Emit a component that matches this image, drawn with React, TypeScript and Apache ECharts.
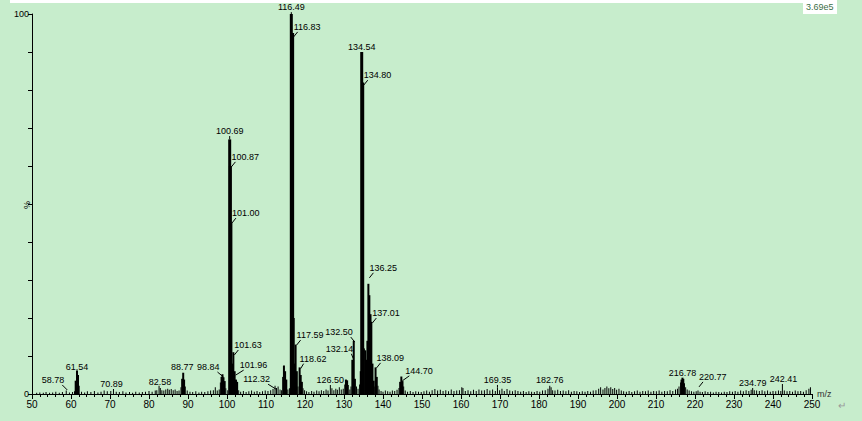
import React, { useEffect, useRef } from "react";
import * as echarts from "echarts";

// m/z values of every stick in the spectrum
const mzValues: number[] = [
  51.2, 52.0, 52.9, 53.6, 54.5, 55.3, 56.1, 57.0, 57.8, 58.78, 59.6, 60.4, 60.9, 61.2, 61.54, 61.8, 62.1, 62.7, 63.5, 64.2,
  65.1, 66.0, 66.9, 67.7, 68.5, 69.3, 70.2, 70.89, 71.6, 72.4, 73.3, 74.1, 75.0, 75.8, 76.6, 77.5, 78.3, 79.1, 80.0, 80.8,
  81.6, 82.0, 82.58, 82.9, 83.3, 83.8, 84.3, 84.8, 85.2, 85.7, 86.2, 86.7, 87.2, 87.7, 88.2, 88.5, 88.77, 89.0, 89.3, 89.8,
  90.5, 91.2, 92.0, 92.8, 93.5, 94.3, 95.1, 95.8, 96.5, 97.0, 97.5, 98.0, 98.3, 98.6, 98.84, 99.1, 99.4, 99.7, 100.2, 100.69,
  100.87, 101.0, 101.3, 101.63, 101.96, 102.3, 102.6, 103.0, 103.5, 104.2, 104.9, 105.6, 106.3, 107.0, 107.7, 108.4, 109.1, 109.8, 110.5, 111.2,
  111.8, 112.32, 112.7, 113.1, 113.6, 114.0, 114.4, 114.6, 114.9, 115.2, 115.6, 116.0, 116.49, 116.83, 117.1, 117.35, 117.59, 117.9, 118.2, 118.62,
  118.9, 119.2, 119.5, 119.9, 120.4, 121.0, 121.7, 122.3, 123.0, 123.6, 124.2, 124.8, 125.4, 125.9, 126.5, 126.9, 127.4, 127.9, 128.3, 128.8,
  129.3, 129.8, 130.2, 130.5, 130.8, 131.1, 131.5, 131.8, 132.14, 132.5, 132.8, 133.2, 133.6, 134.0, 134.3, 134.54, 134.8, 135.1, 135.45, 135.8,
  136.0, 136.25, 136.5, 136.8, 137.01, 137.3, 137.6, 137.9, 138.09, 138.4, 138.7, 139.0, 139.5, 140.0, 140.6, 141.2, 141.8, 142.4, 143.0, 143.6,
  144.1, 144.4, 144.7, 145.0, 145.3, 145.7, 146.3, 147.0, 147.7, 148.4, 149.1, 149.8, 150.5, 151.2, 151.9, 152.6, 153.3, 154.0, 154.7, 155.4,
  156.1, 156.8, 157.5, 158.2, 158.9, 159.6, 160.2, 160.5, 161.1, 161.8, 162.5, 163.2, 163.9, 164.6, 165.3, 166.0, 166.7, 167.4, 168.1, 168.8,
  169.35, 169.9, 170.5, 171.1, 171.8, 172.5, 173.2, 173.9, 174.6, 175.3, 176.0, 176.7, 177.4, 178.1, 178.8, 179.5, 180.2, 180.9, 181.6, 182.3,
  182.76, 183.1, 183.5, 184.1, 184.8, 185.5, 186.2, 186.9, 187.6, 188.3, 189.0, 189.7, 190.4, 191.1, 191.8, 192.5, 193.2, 193.9, 194.6, 195.3,
  195.8, 196.4, 196.9, 197.4, 197.9, 198.4, 198.9, 199.4, 199.9, 200.5, 201.1, 201.7, 202.4, 203.1, 203.8, 204.5, 205.2, 205.9, 206.6, 207.3,
  208.0, 208.7, 209.4, 210.1, 210.8, 211.5, 212.2, 212.9, 213.6, 214.3, 215.0, 215.5, 215.9, 216.3, 216.55, 216.78, 217.0, 217.3, 217.6, 218.0,
  218.5, 219.1, 219.7, 220.3, 220.77, 221.3, 221.9, 222.6, 223.3, 224.0, 224.7, 225.4, 226.1, 226.8, 227.5, 228.2, 228.9, 229.6, 230.3, 231.0,
  231.7, 232.4, 233.1, 233.8, 234.4, 234.79, 235.2, 235.8, 236.5, 237.2, 237.9, 238.6, 239.3, 240.0, 240.7, 241.4, 242.0, 242.41, 242.9, 243.6,
  244.3, 245.0, 245.7, 246.4, 247.1, 247.8, 248.5, 249.2, 249.6,
];

// relative intensity (%) of each stick, same order as mzValues
const intensities: number[] = [
  0.3, 0.4, 0.3, 0.5, 0.3, 0.4, 0.6, 0.3, 0.5, 0.9, 0.4, 0.5, 0.7, 3.5, 6.2, 5.0, 2.2, 0.6, 0.4, 0.7,
  0.5, 0.8, 0.4, 0.6, 0.9, 0.7, 0.8, 1.3, 0.6, 0.5, 0.7, 0.4, 0.5, 0.3, 0.6, 0.4, 0.5, 0.6, 0.8, 0.6,
  0.9, 1.0, 2.2, 1.6, 1.0, 0.9, 1.2, 1.4, 1.1, 1.3, 1.0, 1.2, 0.8, 0.9, 1.8, 4.0, 5.6, 3.8, 2.0, 0.9,
  0.6, 0.5, 0.7, 0.4, 0.6, 0.5, 0.7, 0.9, 1.0, 1.8, 0.9, 1.2, 3.0, 4.5, 5.2, 4.4, 3.4, 1.5, 1.0, 67,
  60, 45, 8, 11, 6, 3.8, 3.2, 1.0, 0.6, 0.8, 0.5, 0.7, 0.9, 0.6, 0.8, 0.5, 0.7, 0.9, 0.8, 1.0,
  1.3, 2.2, 1.6, 2.0, 1.2, 1.0, 4.5, 7.5, 6.0, 3.8, 1.2, 1.5, 100, 95, 20, 8, 13, 6, 2.0, 7,
  5, 3.2, 1.5, 1.0, 0.7, 0.5, 0.8, 0.6, 0.9, 0.7, 1.0, 0.8, 1.2, 0.9, 2.4, 1.5, 1.0, 1.4, 1.1, 1.8,
  1.2, 1.4, 2.5, 3.8, 3.6, 2.4, 1.2, 2.0, 9, 14, 4, 2.0, 1.4, 2.5, 6, 90, 82, 12, 11.5, 9,
  14, 29, 26, 21, 19, 8, 3.5, 2.0, 7, 4.5, 2.2, 1.2, 0.8, 0.6, 0.9, 0.7, 0.6, 0.9, 0.8, 1.1,
  1.6, 3.2, 4.6, 3.4, 2.0, 0.9, 0.6, 0.8, 0.5, 0.7, 0.6, 0.5, 0.7, 0.9, 0.6, 1.0, 1.3, 0.9, 1.1, 0.8,
  1.0, 0.7, 1.2, 0.8, 0.9, 1.0, 1.8, 1.6, 0.8, 1.0, 0.7, 1.1, 0.8, 1.2, 0.9, 1.0, 1.3, 0.9, 1.2, 0.8,
  1.7, 1.0, 1.4, 0.8, 1.3, 0.9, 0.7, 1.0, 0.8, 0.6, 0.8, 0.5, 0.7, 0.6, 0.5, 0.8, 0.6, 0.9, 1.0, 1.4,
  2.2, 1.8, 1.0, 0.9, 1.1, 0.8, 0.9, 0.7, 1.0, 0.6, 0.8, 0.7, 0.5, 0.7, 0.6, 0.8, 0.6, 0.9, 1.0, 1.4,
  1.8, 1.2, 1.6, 2.0, 1.5, 1.8, 1.3, 1.6, 1.1, 1.4, 0.9, 0.7, 0.6, 0.8, 0.5, 0.7, 0.9, 0.6, 0.8, 0.7,
  0.9, 0.6, 0.8, 0.7, 0.9, 0.6, 0.8, 0.7, 1.0, 0.8, 1.2, 1.4, 2.0, 3.0, 3.8, 4.3, 4.0, 2.8, 1.8, 1.2,
  0.9, 0.7, 0.6, 0.7, 0.9, 0.6, 0.5, 0.7, 0.5, 0.6, 0.4, 0.6, 0.5, 0.4, 0.6, 0.5, 0.7, 0.6, 0.8, 0.6,
  0.9, 0.7, 1.0, 0.8, 1.1, 1.3, 1.0, 0.9, 0.8, 1.0, 0.7, 0.9, 0.6, 0.8, 0.7, 0.9, 0.8, 2.6, 0.9, 0.7,
  0.8, 0.6, 0.9, 0.7, 0.8, 0.6, 1.0, 1.4, 1.8,
];

// peaks that carry an m/z label
const labelledMz: number[] = [
  58.78, 61.54, 70.89, 82.58, 88.77, 98.84, 100.69, 100.87, 101.0, 101.63, 101.96, 112.32, 116.49, 116.83, 117.59, 118.62,
  126.5, 132.14, 132.5, 134.54, 134.8, 136.25, 137.01, 138.09, 144.7, 169.35, 182.76, 216.78, 220.77, 234.79, 242.41,
];

// label placement (layout only): level of label centre in %, side, extra x shift in px
const labelLayout: Record<string, [number, string, number]> = {
  "58.78": [3.7, "l", -1],
  "61.54": [7.1, "c", 0],
  "70.89": [2.6, "c", -2],
  "82.58": [3.2, "c", 1],
  "88.77": [7.1, "c", -1],
  "98.84": [7.1, "l", -2],
  "100.69": [69.2, "c", 0],
  "100.87": [62.4, "r", 0],
  "101.00": [47.6, "r", 0],
  "101.63": [12.9, "r", 0],
  "101.96": [7.6, "r", 4],
  "112.32": [3.9, "l", -4],
  "116.49": [101.8, "c", 0],
  "116.83": [96.6, "r", 0],
  "117.59": [15.5, "r", 0],
  "118.62": [9.3, "r", -1],
  "126.50": [3.7, "c", 0],
  "132.14": [11.9, "l", 2],
  "132.50": [16.3, "l", 0],
  "134.54": [91.3, "c", 0],
  "134.80": [83.9, "r", 0],
  "136.25": [33.2, "r", 0],
  "137.01": [21.3, "r", 0],
  "138.09": [9.5, "r", 0],
  "144.70": [6.1, "r", 3],
  "169.35": [3.7, "c", 0],
  "182.76": [3.7, "c", 0],
  "216.78": [5.5, "c", 0],
  "220.77": [4.5, "r", 0],
  "234.79": [2.9, "c", 0],
  "242.41": [3.9, "c", 1],
};

const xTickValues: number[] = [50, 60, 70, 80, 90, 100, 110, 120, 130, 140, 150, 160, 170, 180, 190, 200, 210, 220, 230, 240, 250];
const yTickLabels: number[] = [0, 100];
const basePeakIntensity = "3.69e5";

const FONT = "Liberation Sans, Arial, sans-serif";

export default function App() {
  const ref = useRef<HTMLDivElement>(null);

  useEffect(() => {
    if (!ref.current) return;
    const chart = echarts.init(ref.current, undefined, { renderer: "svg" });

    const stickData = mzValues.map((m, i) => [m, intensities[i]]);
    const labelData = labelledMz.map((m) => {
      const idx = mzValues.indexOf(m);
      const key = m.toFixed(2);
      return [m, intensities[idx], labelLayout[key][0]];
    });

    const option: any = {
      animation: false,
      backgroundColor: "#C7EDCC",
      grid: { left: 32, right: 50, top: 14, bottom: 27, containLabel: false },
      xAxis: {
        type: "value",
        min: 50,
        max: 250,
        interval: 10,
        axisLine: { show: true, lineStyle: { color: "#000", width: 1 } },
        axisTick: { show: true, length: 5, lineStyle: { color: "#000" } },
        minorTick: { show: true, splitNumber: 5, length: 3, lineStyle: { color: "#000" } },
        splitLine: { show: false },
        axisLabel: {
          color: "#000",
          fontFamily: FONT,
          fontSize: 10,
          margin: 5,
          formatter: (v: number) => (xTickValues.includes(v) ? String(v) : ""),
        },
      },
      yAxis: {
        type: "value",
        min: 0,
        max: 100,
        interval: 10,
        axisLine: { show: true, lineStyle: { color: "#000", width: 1 } },
        axisTick: { show: true, length: 4, lineStyle: { color: "#000" } },
        splitLine: { show: false },
        axisLabel: {
          color: "#000",
          fontFamily: FONT,
          fontSize: 9,
          margin: 3,
          formatter: (v: number) => (yTickLabels.includes(v) ? String(v) : ""),
        },
      },
      series: [
        {
          type: "custom",
          data: stickData,
          encode: { x: 0, y: 1 },
          renderItem: (params: any, api: any) => {
            const m = api.value(0);
            const v = api.value(1);
            const top = api.coord([m, v]);
            const base = api.coord([m, 0]);
            const w = v > 40 ? 3 : v > 3 ? 2 : 1;
            return {
              type: "rect",
              shape: { x: top[0] - w / 2, y: top[1], width: w, height: base[1] - top[1] },
              style: { fill: "#000" },
            };
          },
        },
        {
          type: "custom",
          data: labelData,
          encode: { x: 0, y: 1 },
          clip: false,
          z: 5,
          renderItem: (params: any, api: any) => {
            const m = api.value(0);
            const v = api.value(1);
            const lvl = api.value(2);
            const key = m.toFixed(2);
            const side = labelLayout[key][1];
            const dx = labelLayout[key][2];
            const [bx, by] = api.coord([m, v]);
            const ly = api.coord([m, lvl])[1];
            const children: any[] = [];
            const txt = (x: number, align: string) => ({
              type: "text",
              style: {
                text: key,
                x,
                y: ly,
                fill: "#000",
                font: `9px ${FONT}`,
                align,
                textAlign: align,
                verticalAlign: "middle",
                textVerticalAlign: "middle",
              },
            });
            const ln = (x1: number, y1: number, x2: number, y2: number) => ({
              type: "line",
              shape: { x1, y1, x2, y2 },
              style: { stroke: "#000", lineWidth: 1 },
            });
            if (side === "c") {
              children.push(txt(bx + dx, "center"));
              if (by > ly + 6) children.push(ln(bx, ly + 5, bx, by));
            } else if (side === "r") {
              children.push(txt(bx + 1 + dx, "left"));
              children.push(ln(bx + 5 + dx, ly + 5, bx + 1, ly + 10));
            } else {
              children.push(txt(bx - 1 + dx, "right"));
              children.push(ln(bx - 3 + dx, ly + 5, bx + 1, ly + 10));
            }
            return { type: "group", children };
          },
        },
      ],
      graphic: [
        { type: "rect", left: 10, top: 0, shape: { width: 793, height: 3 }, style: { fill: "#fff" } },
        { type: "rect", left: 803, top: 0, shape: { width: 34, height: 14 }, style: { fill: "#fff" } },
        {
          type: "text",
          left: 806,
          top: 2,
          style: { text: basePeakIntensity, fill: "#3C6E46", font: `9px ${FONT}` },
        },
        {
          type: "text",
          x: 27,
          y: 205,
          rotation: Math.PI / 2,
          style: { text: "%", fill: "#000", font: `9px ${FONT}`, textAlign: "center", textVerticalAlign: "middle" },
        },
        {
          type: "text",
          left: 817,
          top: 389,
          style: { text: "m/z", fill: "#333", font: `9px ${FONT}` },
        },
        {
          type: "text",
          left: 838,
          top: 400,
          style: { text: "↵", fill: "#999", font: `10px ${FONT}` },
        },
      ],
    };

    chart.setOption(option);
    return () => chart.dispose();
  }, []);

  return (
    <div
      ref={ref}
      style={{ position: "fixed", left: 0, top: 0, width: 862, height: 421 }}
    />
  );
}
